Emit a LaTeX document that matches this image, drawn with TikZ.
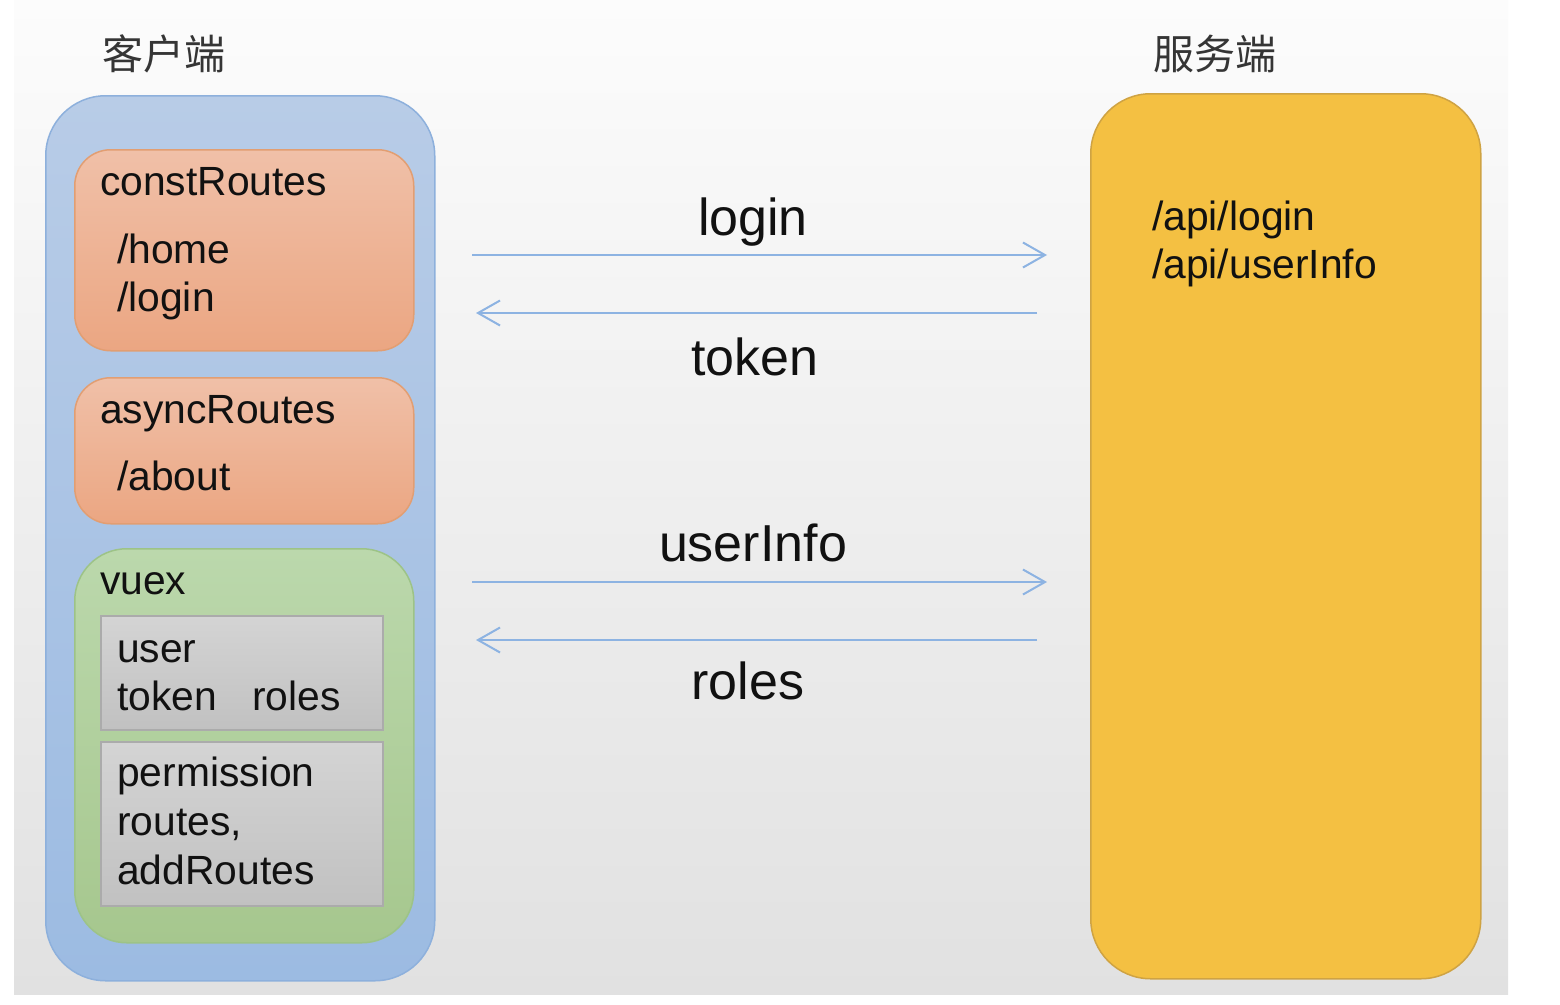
\documentclass[tikz,border=0pt]{standalone}
\usepackage{fontspec}
\setmainfont{Liberation Sans}
\newfontfamily\cjk{Noto Sans CJK SC}
\usetikzlibrary{arrows.meta}
\definecolor{bgtop}{HTML}{FCFCFC}
\definecolor{bgbot}{HTML}{E1E1E1}
\definecolor{bluetop}{HTML}{B8CCE7}
\definecolor{bluebot}{HTML}{9CBBE2}
\definecolor{blueedge}{HTML}{8DB0DC}
\definecolor{ortop}{HTML}{F0C0A8}
\definecolor{orbot}{HTML}{EBA682}
\definecolor{oredge}{HTML}{E29E72}
\definecolor{grtop}{HTML}{BBD8AC}
\definecolor{grbot}{HTML}{A6C78E}
\definecolor{gredge}{HTML}{9DC387}
\definecolor{gytop}{HTML}{D4D4D4}
\definecolor{gybot}{HTML}{C1C1C1}
\definecolor{gyedge}{HTML}{ABABAB}
\definecolor{yel}{HTML}{F4C042}
\definecolor{yeledge}{HTML}{CFA343}
\definecolor{arr}{HTML}{8DB3E2}
\definecolor{ink}{HTML}{111111}
\begin{document}
\begin{tikzpicture}[x=1pt,y=-1pt,
  box/.style={anchor=north west, inner sep=0pt, line width=1.5pt},
  clientbox/.style={box, rounded corners=60pt, top color=bluetop, bottom color=bluebot, draw=blueedge},
  routebox/.style={box, rounded corners=36pt, top color=ortop, bottom color=orbot, draw=oredge},
  vuexbox/.style={box, rounded corners=52pt, top color=grtop, bottom color=grbot, draw=gredge},
  statebox/.style={box, top color=gytop, bottom color=gybot, draw=gyedge},
  serverbox/.style={box, rounded corners=60pt, fill=yel, draw=yeledge},
  txt/.style={font=\fontsize{40.8}{48}\selectfont, text=ink, inner sep=0pt, anchor=base west},
  lbl/.style={font=\fontsize{52}{60}\selectfont, text=ink, inner sep=0pt, anchor=base},
  ttl/.style={font=\cjk\fontsize{41}{50}\selectfont, text=ink!85, inner sep=0pt, anchor=center},
  flow/.style={draw=arr, line width=2pt, -{Straight Barb[length=22pt,width=25pt,line width=2pt]}}
]
\useasboundingbox (0,0) rectangle (1560,1004);
\fill[white] (0,0) rectangle (1560,1004);
\shade[top color=bgtop, bottom color=bgbot] (14,0) rectangle (1508,994);

% titles
\node[ttl] (tclient) at (164,54) {客户端};
\node[ttl] (tserver) at (1215,54) {服务端};

% client side
\node[clientbox, minimum width=389pt, minimum height=885pt] (client) at (45,95) {};
\node[routebox, minimum width=339pt, minimum height=201pt] (const) at (74,149) {};
\node[routebox, minimum width=339pt, minimum height=146pt] (async) at (74,377) {};
\node[vuexbox, minimum width=339pt, minimum height=394pt] (vuex) at (74,548) {};
\node[statebox, minimum width=282pt, minimum height=114pt] (user) at (100,615) {};
\node[statebox, minimum width=282pt, minimum height=164pt] (perm) at (100,741) {};

\node[txt] (t1) at (100,195) {constRoutes};
\node[txt] (t2) at (117,263) {/home};
\node[txt] (t3) at (117,311) {/login};
\node[txt] (t4) at (100,423) {asyncRoutes};
\node[txt] (t5) at (117,490) {/about};
\node[txt] (t6) at (100,594) {vuex};
\node[txt] (t7) at (117,662) {user};
\node[txt] (t8) at (117,710) {token\hspace{24pt} roles};
\node[txt] (t9) at (117,786) {permission};
\node[txt] (t10) at (117,835) {routes,};
\node[txt] (t11) at (117,884) {addRoutes};

% server side
\node[serverbox, minimum width=390pt, minimum height=885pt] (server) at (1090,93) {};
\node[txt] (s1) at (1152,230) {/api/login};
\node[txt] (s2) at (1152,278) {/api/userInfo};

% connectors
\coordinate (l1) at (472,255); \coordinate (r1) at (1047,255);
\coordinate (r2) at (1037,313); \coordinate (l2) at (476,313);
\coordinate (l3) at (472,582); \coordinate (r3) at (1047,582);
\coordinate (r4) at (1037,640); \coordinate (l4) at (476,640);
\draw[flow] (l1) -- (r1);
\draw[flow] (r2) -- (l2);
\draw[flow] (l3) -- (r3);
\draw[flow] (r4) -- (l4);

\node[lbl] (a1) at (753,235) {login};
\node[lbl] (a2) at (755,375) {token};
\node[lbl] (a3) at (753,561) {userInfo};
\node[lbl] (a4) at (748,699) {roles};
\end{tikzpicture}
\end{document}
